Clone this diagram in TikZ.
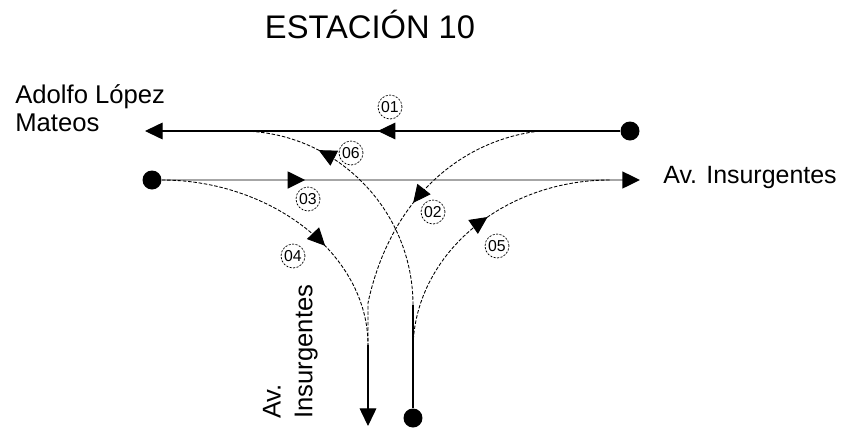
\documentclass[tikz,border=0pt]{standalone}
\usepackage{fontspec}
\setmainfont{Liberation Sans}
\usepackage{tikz}
\usetikzlibrary{arrows.meta,decorations.markings}
\newcommand{\tipsz}{length=10pt,width=9.5pt,color=black}

\begin{document}
\begin{tikzpicture}[x=0.02cm,y=-0.02cm,
    dot/.style={circle,fill=black,inner sep=0pt,minimum size=0.38cm},
    road/.style={line width=0.6pt},
    turn/.style={line width=0.5pt,dash pattern=on 2pt off 1pt},
    num/.style={circle,draw,line width=0.4pt,dash pattern=on 1.2pt off 0.8pt,inner sep=0pt,
      minimum size=0.48cm,font=\fontsize{9}{9}\selectfont},
    midarrow/.style={postaction={decorate},decoration={markings,
      mark=at position #1 with {\pgfsetdash{}{0pt}\arrow{Triangle[\tipsz]}}}}]
  \useasboundingbox (0,0) rectangle (850,427);
  % title and street names
  \node[anchor=base,font=\fontsize{18.6}{18}\selectfont] (title) at (370,38) {ESTACIÓN 10};
  \node[anchor=north west,align=left,inner sep=0pt,font=\fontsize{14.6}{16}\selectfont] (alm) at (15,84) {Adolfo López\\Mateos};
  \node[anchor=base west,inner sep=0pt,font=\fontsize{14.2}{16}\selectfont] (insE) at (663,183) {Av. Insurgentes};
  \node[anchor=south west,rotate=90,align=left,inner sep=0pt,font=\fontsize{14.6}{18}\selectfont] (insS) at (318,419) {Av.\\Insurgentes};
  % entries and exits
  \node[dot] (eIn) at (630,131) {};
  \node[dot] (wIn) at (152,180) {};
  \node[dot] (sIn) at (413,418) {};
  \coordinate (wOut) at (145,131);
  \coordinate (eOut) at (640,180);
  \coordinate (sOut) at (368,426);
  \coordinate (j06) at (240,131);
  \coordinate (j02) at (540,131);
  \coordinate (j05) at (610,180);
  \coordinate (jL) at (368,345);
  \coordinate (jL2) at (368,303);
  \coordinate (jR) at (413,305);
  \coordinate (jR5) at (413,350);
  % straight movements
  \draw[road,midarrow=0.51,-{Triangle[\tipsz]}] (eIn) -- (wOut);
  \draw[road,line width=1.2pt,gray!70,midarrow=0.3,-{Triangle[\tipsz]}] (wIn) -- (eOut);
  \draw[road,-{Triangle[\tipsz]}] (jL) -- (sOut);
  \draw[road] (sIn) -- (jR);
  % turning movements
  \draw[turn,midarrow=0.495] (j02) .. controls (460,140) and (390,200) .. (jL2) -- (jL);
  \draw[turn,midarrow=0.62] (wIn) .. controls (271,180) and (368,254) .. (jL);
  \draw[turn,midarrow=0.55] (jR5) .. controls (413,256) and (502,180) .. (j05);
  \draw[turn,midarrow=0.70] (jR) .. controls (413,209) and (335,131) .. (j06);
  % movement numbers
  \node[num] (n01) at (390,107) {01};
  \node[num] (n02) at (433,212) {02};
  \node[num] (n03) at (308,199) {03};
  \node[num] (n04) at (293,256) {04};
  \node[num] (n05) at (497,246) {05};
  \node[num] (n06) at (351,153) {06};
\end{tikzpicture}
\end{document}
